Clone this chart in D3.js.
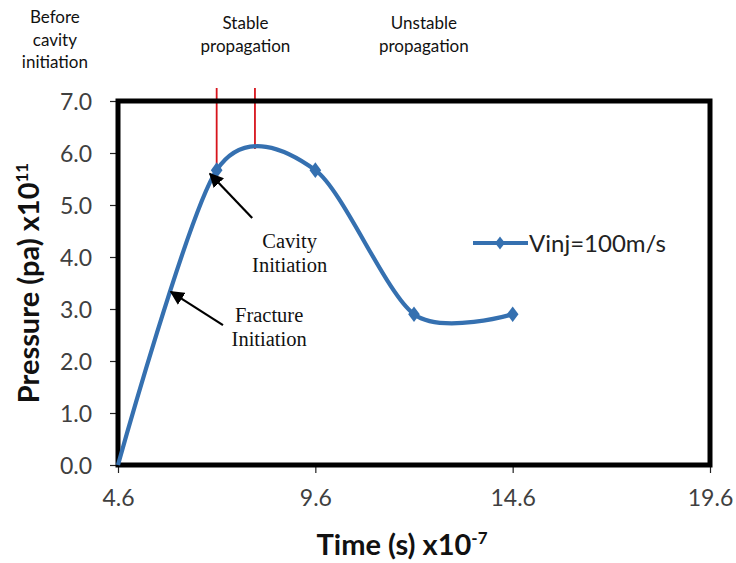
<!DOCTYPE html>
<html><head><meta charset="utf-8">
<script src="https://cdn.jsdelivr.net/npm/d3@7"></script>
<style>body{margin:0;background:#fff}</style>
</head><body>
<svg id="c" width="736" height="563"></svg>
<script>
const timeVals = [4.6, 7.1, 9.6, 12.1, 14.6];
const pressureVals = [0, 5.67, 5.67, 2.9, 2.9];
const xTicks = [4.6, 9.6, 14.6, 19.6];
const yTicks = [0, 1, 2, 3, 4, 5, 6, 7];
const seriesName = "Vinj=100m/s";
const phaseLabels = [
  {lines:["Before","cavity","initiation"], x:3.0, y0:23},
  {lines:["Stable","propagation"], x:7.83, y0:29},
  {lines:["Unstable","propagation"], x:12.35, y0:29}
];
const phaseMarks = [7.1, 8.07];
const annotations = [
  {lines:["Cavity","Initiation"], tx:8.95, ty:4.17, from:[8.0,4.75], to:[6.93,5.6]},
  {lines:["Fracture","Initiation"], tx:8.43, ty:2.75, from:[7.26,2.69], to:[5.94,3.33]}
];

const svg = d3.select("#c");
const m = {l:118, r:710, t:101, b:465};
const x = d3.scaleLinear().domain([4.6,19.6]).range([m.l,m.r]);
const y = d3.scaleLinear().domain([0,7]).range([m.b,m.t]);
const blue = "#3570b0";
const sans = "Lato, 'Open Sans', sans-serif";

// axes
const gy = svg.append("g").attr("transform",`translate(${m.l},0)`)
  .call(d3.axisLeft(y).tickValues(yTicks).tickFormat(d3.format(".1f")).tickSize(8).tickSizeOuter(0));
const gx = svg.append("g").attr("transform",`translate(0,${m.b})`)
  .call(d3.axisBottom(x).tickValues(xTicks).tickFormat(d3.format(".1f")).tickSize(8).tickSizeOuter(0));
[gy,gx].forEach(g=>{
  g.select(".domain").remove();
  g.selectAll("line").attr("stroke","#222").attr("stroke-width",1.2);
  g.selectAll("text").attr("fill","#404040").style("font-family",sans).style("font-size","23px");
});
gy.selectAll("text").attr("x",-26).attr("dy","0.35em");
gx.selectAll("text").attr("y",25).attr("dy","0.71em");

// red phase markers
svg.append("g").selectAll("line").data(phaseMarks).join("line")
  .attr("x1",d=>x(d)).attr("x2",d=>x(d))
  .attr("y1",88).attr("y2",(d,i)=>i===0?167:149)
  .attr("stroke","#d7141c").attr("stroke-width",1.8);

// frame
svg.append("rect").attr("x",m.l).attr("y",m.t).attr("width",m.r-m.l).attr("height",m.b-m.t)
  .attr("fill","none").attr("stroke","#000").attr("stroke-width",5);

// curve
const pts = timeVals.map((t,i)=>[t,pressureVals[i]]);
const line = d3.line().x(d=>x(d[0])).y(d=>y(d[1])).curve(d3.curveCardinal.tension(0.15));
svg.append("path").datum(pts).attr("d",line).attr("fill","none")
  .attr("stroke",blue).attr("stroke-width",4.2).attr("stroke-linejoin","round");
const diamond = d3.symbol().type(d3.symbolDiamond).size(70);
svg.append("g").selectAll("path").data(pts.slice(1)).join("path")
  .attr("d",diamond).attr("transform",d=>`translate(${x(d[0])},${y(d[1])}) scale(1.3,1)`).attr("fill",blue);

// legend
const lg = svg.append("g").attr("transform","translate(473,243)");
lg.append("line").attr("x1",0).attr("x2",55).attr("stroke",blue).attr("stroke-width",4.2);
lg.append("path").attr("d",d3.symbol().type(d3.symbolDiamond).size(50)).attr("transform","translate(27,0) scale(1.3,1)").attr("fill",blue);
lg.append("text").attr("x",56).attr("dy","0.36em").text(seriesName)
  .style("font-family",sans).style("font-size","24px").attr("fill","#222");

// axis titles
svg.append("text").attr("x",402).attr("y",555).attr("text-anchor","middle")
  .style("font-family",sans).style("font-size","29px").style("font-weight","bold").attr("fill","#111")
  .call(t=>{t.append("tspan").text("Time (s) x10");t.append("tspan").text("-7").attr("dy",-11).style("font-size","17px");});
svg.append("text").attr("transform","translate(39,283) rotate(-90)").attr("text-anchor","middle")
  .style("font-family",sans).style("font-size","29px").style("font-weight","bold").attr("fill","#111")
  .call(t=>{t.append("tspan").text("Pressure (pa) x10");t.append("tspan").text("11").attr("dy",-11).style("font-size","17px");});

// phase labels
phaseLabels.forEach(p=>{
  const t = svg.append("text").attr("text-anchor","middle")
    .style("font-family",sans).style("font-size","17px").attr("fill","#111");
  p.lines.forEach((l,i)=>t.append("tspan").attr("x",x(p.x)).attr("y",p.y0+i*22.5).text(l));
});

// annotations
svg.append("defs").append("marker").attr("id","ah").attr("viewBox","0 0 10 10").attr("refX",9).attr("refY",5)
  .attr("markerWidth",6.5).attr("markerHeight",6.5).attr("orient","auto").attr("markerUnits","strokeWidth")
  .append("path").attr("d","M0,0L10,5L0,10z").attr("fill","#000");
annotations.forEach(a=>{
  svg.append("line").attr("x1",x(a.from[0])).attr("y1",y(a.from[1])).attr("x2",x(a.to[0])).attr("y2",y(a.to[1]))
    .attr("stroke","#000").attr("stroke-width",2.2).attr("marker-end","url(#ah)");
  const t = svg.append("text").attr("text-anchor","middle")
    .style("font-family","'Liberation Serif', 'DejaVu Serif', serif").style("font-size","20.5px").attr("fill","#111");
  a.lines.forEach((l,i)=>t.append("tspan").attr("x",x(a.tx)).attr("y",y(a.ty)+i*24).text(l));
});
</script>
</body></html>
